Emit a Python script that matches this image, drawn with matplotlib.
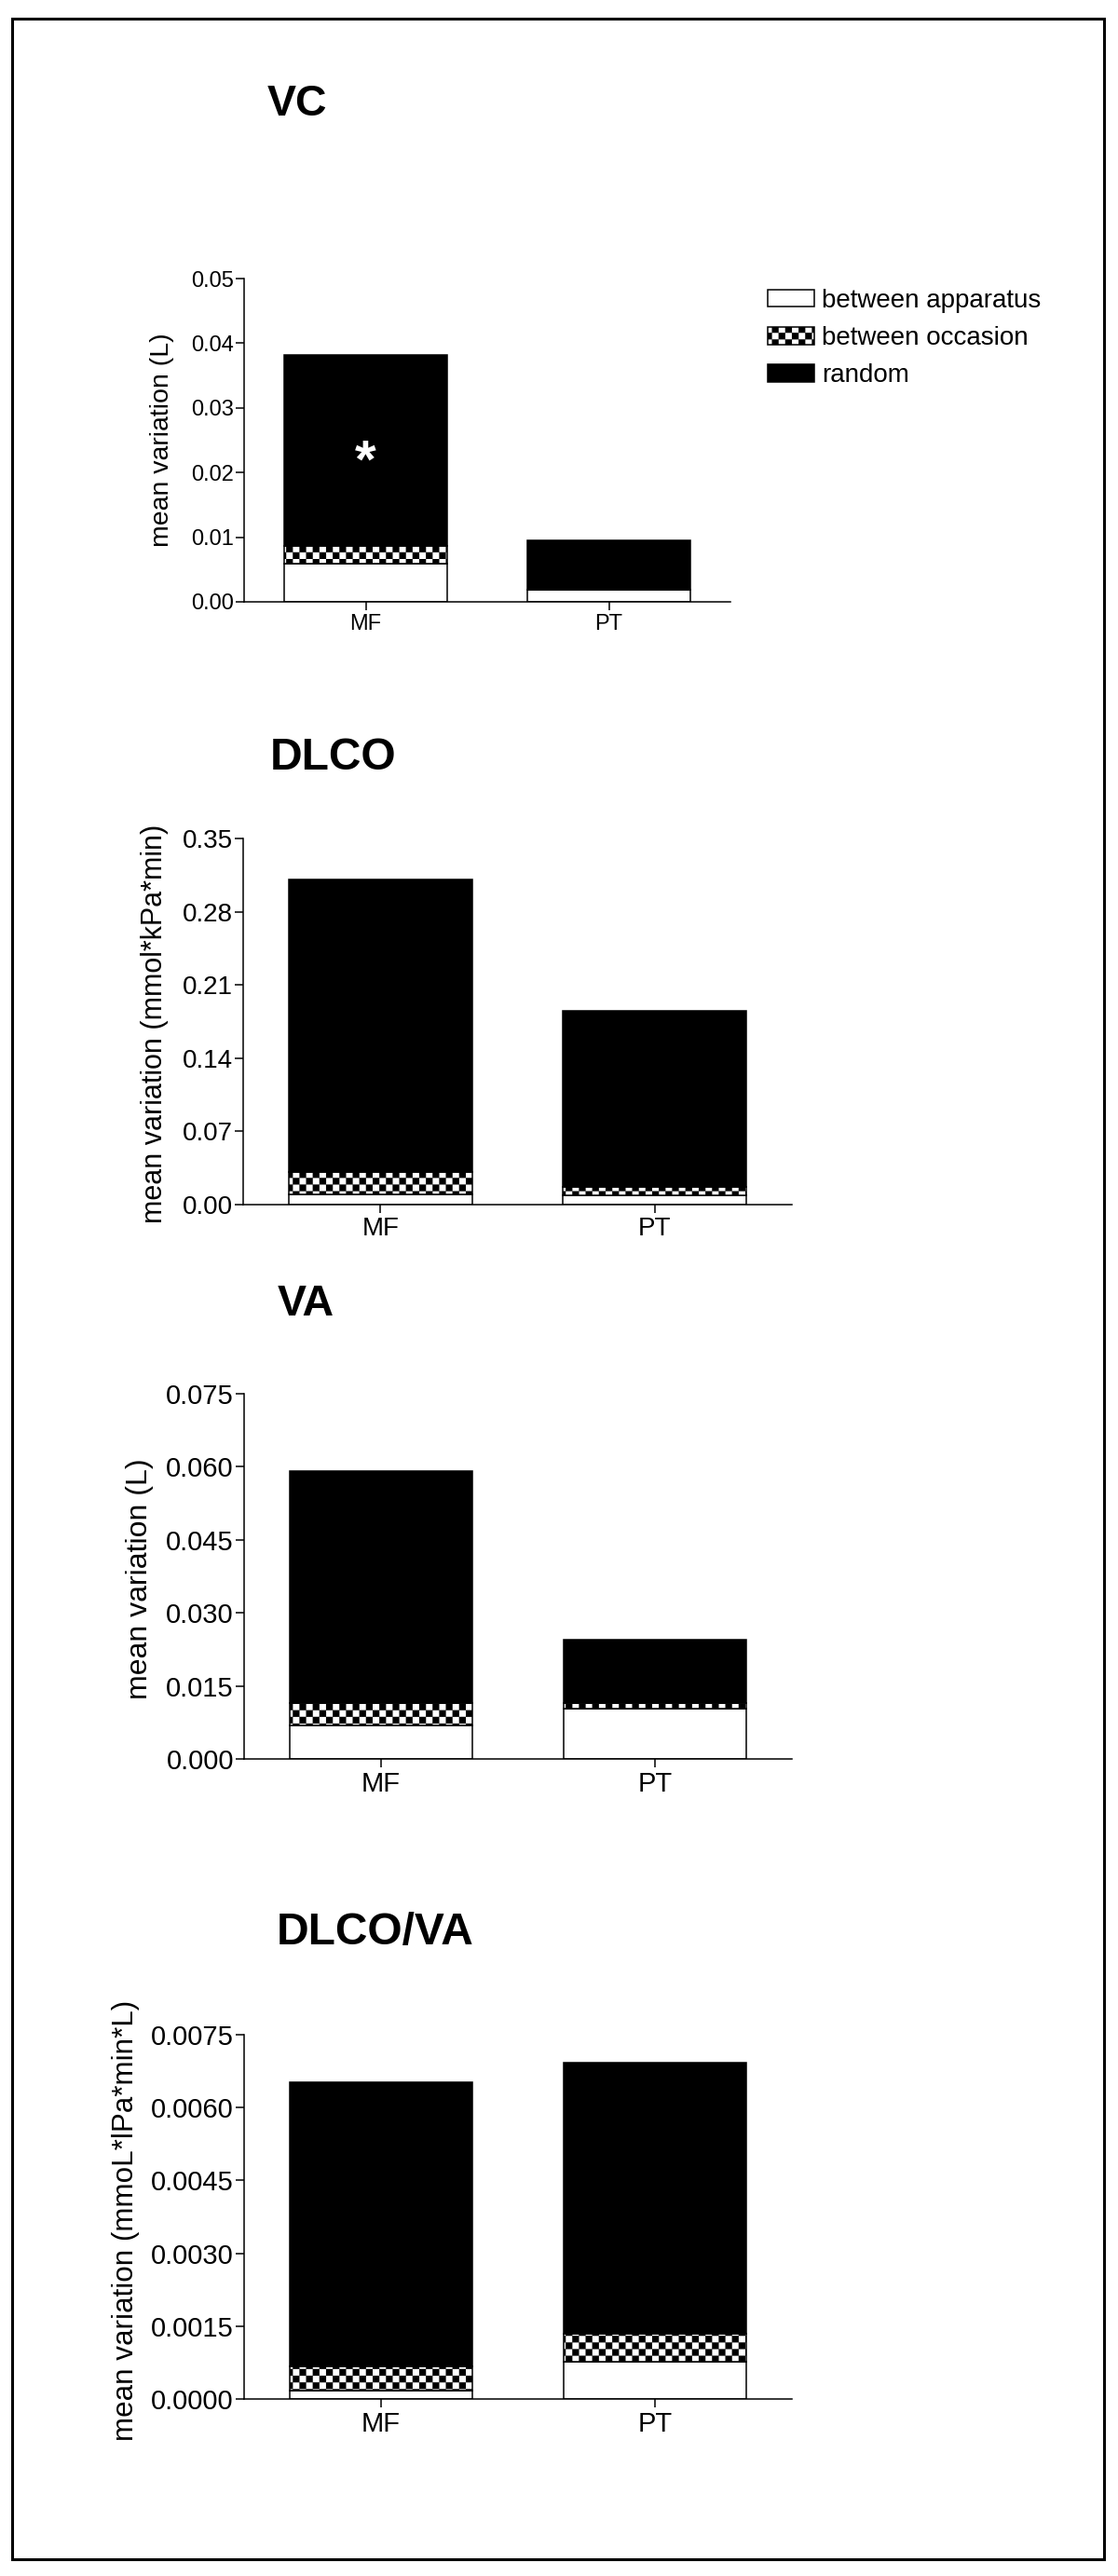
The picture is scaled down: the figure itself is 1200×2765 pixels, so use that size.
import matplotlib
matplotlib.use("Agg")
import matplotlib.pyplot as plt
import matplotlib.hatch as mhatch
from matplotlib.path import Path
from matplotlib.patches import Patch, Rectangle
import numpy as np

plt.rcParams['font.family'] = ['Liberation Sans', 'DejaVu Sans']
plt.rcParams['hatch.linewidth'] = 0.1
plt.rcParams['hatch.color'] = 'black'

# ---------------- data ----------------
groups = ["MF", "PT"]
series_names = ["between apparatus", "between occasion", "random"]

vc_apparatus = [0.0059, 0.0019]
vc_occasion = [0.0028, 0.0]
vc_random = [0.0295, 0.0076]

dlco_apparatus = [0.0100, 0.0092]
dlco_occasion = [0.0214, 0.0074]
dlco_random = [0.2791, 0.1689]

va_apparatus = [0.0068, 0.0103]
va_occasion = [0.0046, 0.0012]
va_random = [0.0478, 0.0129]

dv_apparatus = [0.00017, 0.00077]
dv_occasion = [0.00050, 0.00058]
dv_random = [0.00586, 0.00558]

titles = ["VC", "DLCO", "VA", "DLCO/VA"]
ylabels = ["mean variation (L)",
           "mean variation (mmol*kPa*min)",
           "mean variation (L)",
           "mean variation (mmoL*lPa*min*L)"]
yticks_list = [
    [0.00, 0.01, 0.02, 0.03, 0.04, 0.05],
    [0.00, 0.07, 0.14, 0.21, 0.28, 0.35],
    [0.000, 0.015, 0.030, 0.045, 0.060, 0.075],
    [0.0000, 0.0015, 0.0030, 0.0045, 0.0060, 0.0075],
]
ytick_fmt = ["%.2f", "%.2f", "%.3f", "%.4f"]
annotation_text = "*"

# ---------------- custom checkerboard hatch ----------------
class CheckerHatch(mhatch.HatchPatternBase):
    def __init__(self, hatch, density):
        self.n = 14 if '+' in hatch else 0
        self.num_vertices = (self.n * self.n // 2) * 5

    def set_vertices_and_codes(self, vertices, codes):
        s = 1.0 / self.n
        k = 0
        for i in range(self.n):
            for j in range(self.n):
                if (i + j) % 2 == 0:
                    x0, y0 = i * s, j * s
                    vertices[k:k + 5] = [(x0, y0), (x0 + s, y0), (x0 + s, y0 + s),
                                         (x0, y0 + s), (x0, y0)]
                    codes[k:k + 5] = [Path.MOVETO, Path.LINETO, Path.LINETO,
                                      Path.LINETO, Path.CLOSEPOLY]
                    k += 5

mhatch._hatch_types[:] = [CheckerHatch]
CHECK = '+'

# ---------------- figure ----------------
W, H = 1200, 2765
fig = plt.figure(figsize=(W / 100, H / 100), dpi=100)

def fx(px):
    return px / W

def fy(py):
    return 1 - py / H

# panel layout in pixels: left, right, top, bottom
layout = [
    (262, 784, 299, 646),
    (261, 850, 900, 1293),
    (262, 850, 1496, 1888),
    (262, 850, 2184, 2575),
]
title_pos = [(287, 112), (290, 814), (298, 1400), (297, 2075)]
title_size = [33.5, 34.5, 33.5, 34.5]
ylabel_pos = [(174, 472), (166, 1099), (150, 1695), (135, 2383)]
ylabel_size = [20.5, 22, 23, 22.6]
tick_size = [17, 20, 21, 21]

data = [
    (vc_apparatus, vc_occasion, vc_random),
    (dlco_apparatus, dlco_occasion, dlco_random),
    (va_apparatus, va_occasion, va_random),
    (dv_apparatus, dv_occasion, dv_random),
]

lw = 1.1
x = np.arange(len(groups))
bar_w = 0.67

axes = []
for i in range(4):
    l, r, t, b = layout[i]
    ax = fig.add_axes([fx(l), fy(b), (r - l) / W, (b - t) / H])
    axes.append(ax)
    app, occ, rnd = data[i]
    app = np.array(app); occ = np.array(occ); rnd = np.array(rnd)
    ax.bar(x, app, bar_w, color='white', edgecolor='black', linewidth=lw)
    ax.bar(x, occ, bar_w, bottom=app, color='white', edgecolor='black',
           linewidth=lw, hatch=CHECK)
    ax.bar(x, rnd, bar_w, bottom=app + occ, color='black', edgecolor='black',
           linewidth=lw)
    ax.set_xlim(-0.5, 1.5)
    ax.set_ylim(yticks_list[i][0], yticks_list[i][-1])
    ax.set_yticks(yticks_list[i])
    ax.set_yticklabels([ytick_fmt[i] % v for v in yticks_list[i]])
    ax.set_xticks(x)
    ax.set_xticklabels(groups)
    for sp in ['top', 'right']:
        ax.spines[sp].set_visible(False)
    for sp in ['left', 'bottom']:
        ax.spines[sp].set_linewidth(lw)
    ax.tick_params(axis='both', direction='out', length=6.5, width=lw,
                   labelsize=tick_size[i], colors='black')
    ax.tick_params(axis='y', pad=1.5)
    ax.tick_params(axis='x', pad=3)
    # y label
    ax.set_ylabel(ylabels[i], fontsize=ylabel_size[i])
    xc, yc = ylabel_pos[i]
    ax.yaxis.set_label_coords((xc - l) / (r - l), (b - yc) / (b - t))
    ax.yaxis.label.set_verticalalignment('center')
    ax.yaxis.label.set_horizontalalignment('center')
    ax.yaxis.label.set_rotation_mode('default')
    # title
    tx, ty = title_pos[i]
    fig.text(fx(tx), fy(ty), titles[i], fontsize=title_size[i], fontweight='bold',
             ha='left', va='center')

# asterisk on VC MF bar
axes[0].text(x[0], 0.0214, annotation_text, color='white', fontsize=42,
             fontweight='bold', ha='center', va='center')

# legend
handles = [Patch(facecolor='white', edgecolor='black', linewidth=lw),
           Patch(facecolor='white', edgecolor='black', linewidth=lw, hatch=CHECK),
           Patch(facecolor='black', edgecolor='black', linewidth=lw)]
fig.legend(handles, series_names, loc='upper left',
           bbox_to_anchor=(fx(818), fy(304)), frameon=False, fontsize=20,
           handlelength=1.8, handleheight=0.65, handletextpad=0.3,
           labelspacing=0.52, borderpad=0.2, borderaxespad=0)

# outer border
fig.add_artist(Rectangle((fx(13), fy(2747)), (1185 - 13) / W, (2747 - 20) / H,
                         transform=fig.transFigure, fill=False,
                         edgecolor='black', linewidth=2.2))

fig.savefig("out.png", dpi=100)
